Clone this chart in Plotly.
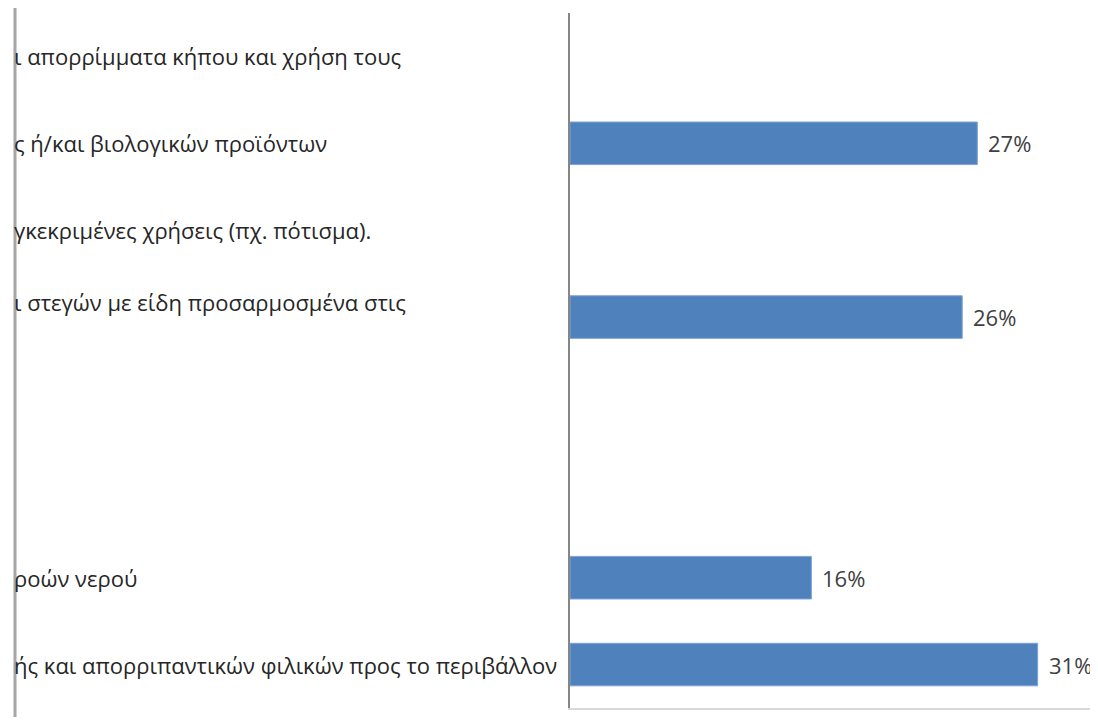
import plotly.graph_objects as go

# ---- data ----
row_labels = [
    "ι απορρίμματα κήπου και χρήση τους",
    "ς ή/και βιολογικών προϊόντων",
    "γκεκριμένες χρήσεις (πχ. πότισμα).",
    "ι στεγών με είδη προσαρμοσμένα στις",
    "",
    "",
    "ροών νερού",
    "ής και απορριπαντικών φιλικών προς το περιβάλλον",
]
row_index = [0, 1, 2, 3, 4, 5, 6, 7]
values = [None, 27, None, 26, None, None, 16, 31]
label_shift = [0, 0, 0, 15, 0, 0, 0, 0]

# ---- layout geometry (page body has an 8px margin) ----
OFF = 8
W, H = 1090, 709
L, R, T = 570 - OFF, 0, 13 - OFF
B = H - (708 - OFF)
PW = W - L - R
PH = H - T - B


def px_to_paper_x(px):
    return (px - OFF - L) / PW


def px_to_paper_y(py):
    return (H - B - (py - OFF)) / PH


FONT = "Open Sans"
TEXT_COLOR = "#262626"

fig = go.Figure()
fig.add_trace(go.Bar(
    x=values,
    y=row_index,
    orientation="h",
    marker=dict(color="#4f81bd", line=dict(color="#7fa3d3", width=1)),
    width=0.49,
    hoverinfo="x",
))

annotations = []
for i, (lab, s) in enumerate(zip(row_labels, label_shift)):
    if not lab:
        continue
    annotations.append(dict(
        x=px_to_paper_x(12), xref="paper", y=row_index[i], yref="y",
        text=lab, showarrow=False, xanchor="left", yanchor="middle",
        yshift=s, font=dict(family=FONT, size=22, color=TEXT_COLOR),
    ))
for i, v in enumerate(values):
    if v is None:
        continue
    annotations.append(dict(
        x=v, xref="x", y=row_index[i], yref="y",
        text=f"{v}%", showarrow=False, xanchor="left", yanchor="middle",
        xshift=9, font=dict(family=FONT, size=22, color="#404040"),
    ))

shapes = [
    dict(type="line", xref="paper", yref="paper",
         x0=px_to_paper_x(15), x1=px_to_paper_x(15),
         y0=px_to_paper_y(H + 40), y1=px_to_paper_y(-40),
         line=dict(color="#a6a6a6", width=3), layer="above"),
]

fig.update_layout(
    width=W, height=H,
    margin=dict(l=L, r=R, t=T, b=B, pad=0),
    plot_bgcolor="white", paper_bgcolor="white",
    showlegend=False,
    annotations=annotations,
    shapes=shapes,
    xaxis=dict(range=[0, 35], showgrid=False, zeroline=False,
               showticklabels=False, ticks="", showline=True,
               linecolor="#d9d9d9", linewidth=2, fixedrange=True),
    yaxis=dict(range=[7.5, -0.5], showgrid=False, zeroline=False,
               showticklabels=False, ticks="", showline=True,
               linecolor="#868686", linewidth=2, fixedrange=True),
)

fig.write_html("out.html")
